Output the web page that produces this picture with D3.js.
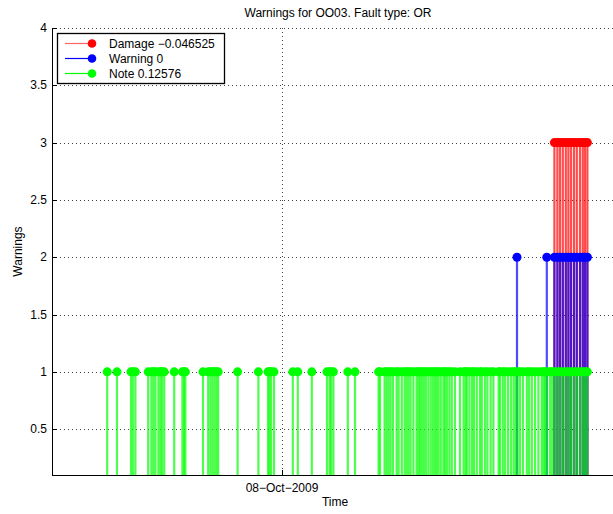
<!DOCTYPE html>
<html><head><meta charset="utf-8">
<script src="https://cdn.jsdelivr.net/npm/d3@7"></script>
<style>body{margin:0;background:#fff} svg text{font-family:"Liberation Sans",Arial,Helvetica,sans-serif}</style>
</head><body><svg id="c" width="613" height="514"></svg>
<script>
// ---------- data ----------
const chartTitle = "Warnings for OO03. Fault type: OR";
const xLabel = "Time";
const yLabel = "Warnings";
const baseDate = new Date(2009, 9, 8, 0, 0, 0);      // 08-Oct-2009
const xDomainHours = [-115, 171];                    // hours relative to baseDate
const xTickHours = [0];
const xTickLabels = ["08\u2212Oct\u22122009"];
const yDomain = [0.1, 4];
const yTicks = [0.5, 1, 1.5, 2, 2.5, 3, 3.5, 4];
const yTickLabels = ["0.5", "1", "1.5", "2", "2.5", "3", "3.5", "4"];
const seriesNames = ["Damage \u22120.046525", "Warning 0", "Note 0.12576"];

const damageValue = 3;
const damageHours = [136.2, 137.7, 139, 140.4, 141.9, 143.2, 144.5, 146, 147.4, 149, 150.4, 151.5, 152.7];

const warningValue = 2;
const warningHours = [117.5, 132.4, 136.2, 137.7, 139, 140.4, 141.9, 143.2, 144.5, 146, 147.4, 149, 150.4, 151.5, 152.7];

const noteValue = 1;
const noteHours = [
  -87.4, -82.5, -75.5, -74.5, -73.3, -66.9, -65.3, -64.3, -63.3, -61.8, -60.8, -60, -58.9,
  -53.9, -49.8, -49, -48.3, -39.5, -36.9, -35.8, -34.8, -33.8, -32.8, -31.9, -22.2, -11.8,
  -7, -6.3, -5.5, -4, 5.4, 7.9, 14.9, 22.5, 23.8, 24.5, 25.7, 32.9, 36.5,
  48.3, 49, 51.3, 52.3, 53.3, 54.3, 55.5, 57.3, 58.3, 59.9, 61.3, 62.3, 63.3, 64.3, 65.7,
  67.3, 68.2, 69, 70, 71, 72, 73.2, 74.4, 75.5, 76.5, 77.4, 78.3, 79.4, 80.7, 81.5, 82.5,
  83.7, 84.9, 86.5, 89, 90.8, 91.8, 92.4, 93.7, 95, 96, 97.4, 99, 99.9, 101.5, 102.7,
  104.3, 105.7, 108.3, 109, 110.4, 111.5, 113, 114.5, 115.8, 116.8, 117.8, 119, 120.5,
  122.4, 123.5, 124.9, 126.5, 128.2, 129.9, 130.8, 131.5, 132.4, 134, 135,
  136.2, 137.7, 139, 140.4, 141.9, 143.2, 144.5, 146, 147.4, 149, 150.4, 151.5, 152.7
];

// ---------- layout ----------
const L = 52, R = 624, T = 28, B = 475;
const toDate = h => new Date(baseDate.getTime() + h * 3600e3);

const svg = d3.select("#c");
const x = d3.scaleTime().domain(xDomainHours.map(toDate)).range([L, R]);
const y = d3.scaleLinear().domain(yDomain).range([B, T]);

svg.append("defs").append("clipPath").attr("id", "clip")
  .append("rect").attr("x", L).attr("y", T - 6).attr("width", R - L + 6).attr("height", B - T + 6);

// grid
const grid = svg.append("g").attr("stroke", "#444").attr("stroke-width", 1).attr("stroke-dasharray", "1,3");
grid.selectAll("line.h").data(yTicks).join("line")
  .attr("x1", L).attr("x2", R).attr("y1", d => Math.round(y(d)) + 0.5).attr("y2", d => Math.round(y(d)) + 0.5);
grid.selectAll("line.v").data(xTickHours).join("line")
  .attr("x1", d => Math.round(x(toDate(d))) + 0.5).attr("x2", d => Math.round(x(toDate(d))) + 0.5)
  .attr("y1", T).attr("y2", B);

// series
const series = [
  { hours: damageHours, value: damageValue, color: "#ff0000" },
  { hours: warningHours, value: warningValue, color: "#0000ff" },
  { hours: noteHours, value: noteValue, color: "#00ff00" }
];
const plot = svg.append("g").attr("clip-path", "url(#clip)");
series.forEach(s => {
  const g = plot.append("g");
  g.selectAll("line").data(s.hours).join("line")
    .attr("x1", d => x(toDate(d))).attr("x2", d => x(toDate(d)))
    .attr("y1", y(0)).attr("y2", y(s.value))
    .attr("stroke", s.color).attr("stroke-width", 2.2).attr("stroke-opacity", 0.7);
  g.selectAll("circle").data(s.hours).join("circle")
    .attr("cx", d => x(toDate(d))).attr("cy", y(s.value)).attr("r", 4.5)
    .attr("fill", s.color);
});

// axes
const ax = svg.append("g").attr("stroke", "#000").attr("stroke-width", 1);
ax.append("line").attr("x1", L + 0.5).attr("x2", L + 0.5).attr("y1", T).attr("y2", B + 0.5);
ax.append("line").attr("x1", L).attr("x2", R).attr("y1", B + 0.5).attr("y2", B + 0.5);
ax.selectAll("line.yt").data(yTicks).join("line")
  .attr("x1", L).attr("x2", L + 5).attr("y1", d => Math.round(y(d)) + 0.5).attr("y2", d => Math.round(y(d)) + 0.5);
ax.selectAll("line.xt").data(xTickHours).join("line")
  .attr("x1", d => Math.round(x(toDate(d))) + 0.5).attr("x2", d => Math.round(x(toDate(d))) + 0.5)
  .attr("y1", B).attr("y2", B - 5);

svg.append("g").selectAll("text").data(yTicks).join("text")
  .attr("x", L - 5).attr("y", d => y(d) + 4).attr("text-anchor", "end")
  .attr("font-size", 12).attr("fill", "#000").text((d, i) => yTickLabels[i]);
svg.append("g").selectAll("text").data(xTickHours).join("text")
  .attr("x", d => x(toDate(d))).attr("y", B + 17).attr("text-anchor", "middle")
  .attr("font-size", 12).attr("fill", "#000").text((d, i) => xTickLabels[i]);

svg.append("text").attr("x", (L + R) / 2).attr("y", 17).attr("text-anchor", "middle")
  .attr("font-size", 12).text(chartTitle);
svg.append("text").attr("x", (L + R) / 2 - 3).attr("y", B + 31).attr("text-anchor", "middle")
  .attr("font-size", 12).text(xLabel);
svg.append("text").attr("transform", `translate(22,${(T + B) / 2}) rotate(-90)`)
  .attr("text-anchor", "middle").attr("font-size", 12).text(yLabel);

// legend
const lg = svg.append("g");
lg.append("rect").attr("x", 57.5).attr("y", 33.5).attr("width", 167).attr("height", 50)
  .attr("fill", "#fff").attr("stroke", "#000").attr("stroke-width", 1.3);
series.forEach((s, i) => {
  const yy = 43.5 + i * 15;
  lg.append("line").attr("x1", 65).attr("x2", 92).attr("y1", yy).attr("y2", yy)
    .attr("stroke", s.color).attr("stroke-width", 1.2).attr("stroke-opacity", i === 0 ? 0.6 : 1);
  lg.append("circle").attr("cx", 92).attr("cy", yy).attr("r", 4.3).attr("fill", s.color);
  lg.append("text").attr("x", 109).attr("y", yy + 4.5).attr("font-size", 12).text(seriesNames[i]);
});
</script></body></html>
